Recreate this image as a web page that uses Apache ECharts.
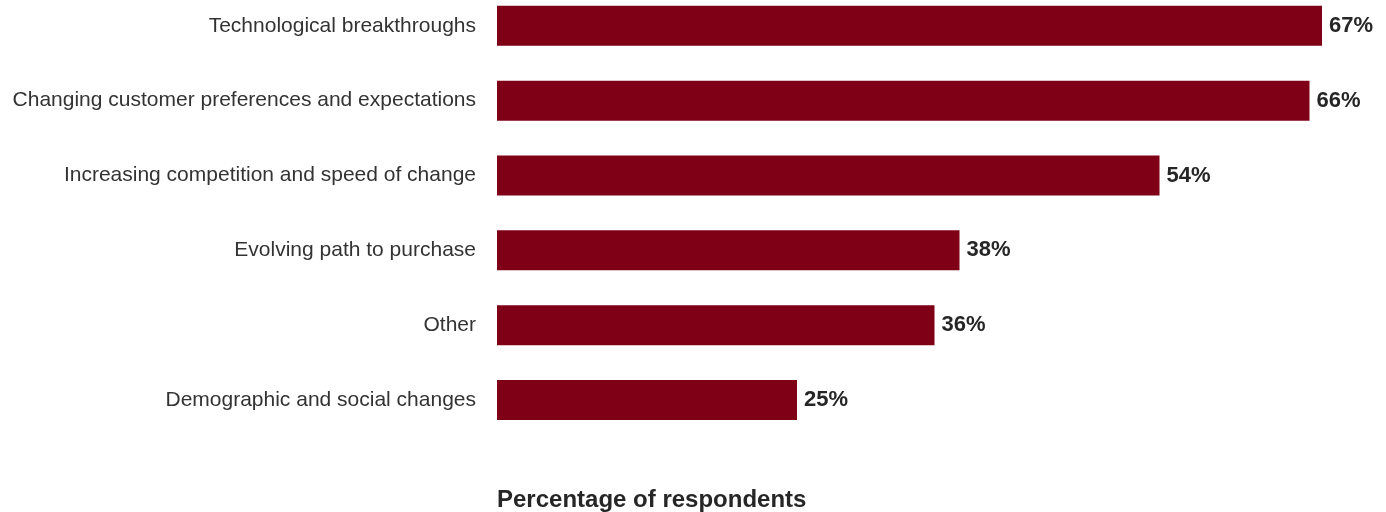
<!DOCTYPE html>
<html>
<head>
<meta charset="utf-8">
<script src="https://cdn.jsdelivr.net/npm/echarts@6/dist/echarts.min.js"></script>
<style>html,body{margin:0;padding:0;background:#fff}#c{width:1386px;height:512px}</style>
</head>
<body>
<div id="c"></div>
<script>
const categories = [
  "Technological breakthroughs",
  "Changing customer preferences and expectations",
  "Increasing competition and speed of change",
  "Evolving path to purchase",
  "Other",
  "Demographic and social changes"
];
const values = [67, 66, 54, 38, 36, 25];
const axisTitle = "Percentage of respondents";

const FONT = 'Liberation Sans, Arial, sans-serif';
const chart = echarts.init(document.getElementById('c'), null, {renderer: 'canvas'});
chart.setOption({
  animation: false,
  backgroundColor: '#ffffff',
  textStyle: {fontFamily: FONT},
  title: {
    text: axisTitle,
    left: 497,
    top: 488,
    padding: 0,
    textStyle: {fontFamily: FONT, fontSize: 24, fontWeight: 'bold', color: '#262626'}
  },
  grid: {left: 497, right: 26.5, top: 25.8, bottom: 112, containLabel: false},
  xAxis: {
    type: 'value', min: 1, max: 70,
    show: false
  },
  yAxis: {
    type: 'category',
    data: categories,
    inverse: true,
    boundaryGap: false,
    axisLine: {show: false},
    axisTick: {show: false},
    splitLine: {show: false},
    axisLabel: {margin: 21, fontSize: 21, color: '#333333', fontFamily: FONT}
  },
  series: [{
    type: 'bar',
    data: values,
    barWidth: 40,
    itemStyle: {color: '#7F0016'},
    label: {
      show: true, position: 'right', distance: 7,
      formatter: p => p.value + '%',
      fontSize: 22, fontWeight: 'bold', color: '#262626',
      fontFamily: FONT
    }
  }]
});
</script>
</body>
</html>
